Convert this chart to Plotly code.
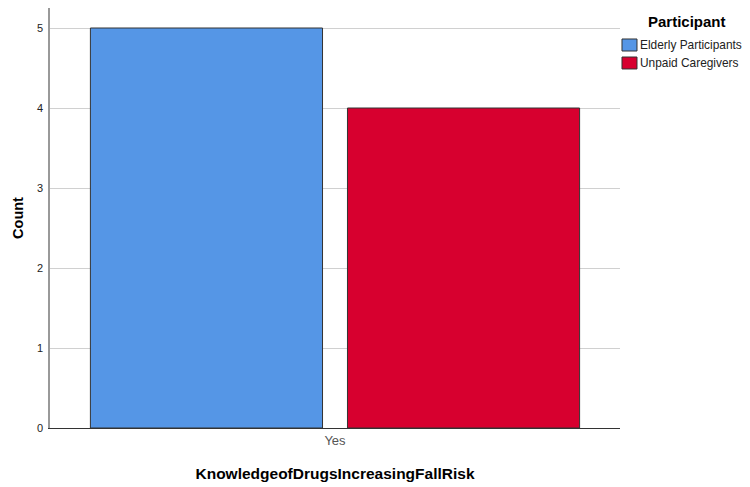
import plotly.graph_objects as go

categories = ["Yes"]
series_names = ["Elderly Participants", "Unpaid Caregivers"]
elderly_counts = [5]
caregiver_counts = [4]
colors = ["#5596E6", "#D7002F"]
legend_title = "Participant"
x_title = "KnowledgeofDrugsIncreasingFallRisk"
y_title = "Count"

FONT = "Liberation Sans, Arial, sans-serif"

fig = go.Figure()
for name, vals, col in zip(series_names, [elderly_counts, caregiver_counts], colors):
    fig.add_trace(go.Bar(
        x=categories, y=vals, name=name, showlegend=False,
        marker=dict(color=col, line=dict(color="#333333", width=1)),
    ))

# Legend drawn as annotations + swatches (SPSS-style compact legend)
fig.add_annotation(
    xref="paper", yref="paper", x=1.1175, y=0.9667, xanchor="center", yanchor="middle",
    text="<b>" + legend_title + "</b>", showarrow=False,
    font=dict(family=FONT, size=15, color="#000000"),
)
sw_y = [(0.8976, 0.9262), (0.8548, 0.8833)]
tx_y = [0.9119, 0.8690]
for name, col, (y0, y1), ty in zip(series_names, colors, sw_y, tx_y):
    fig.add_shape(
        type="rect", xref="paper", yref="paper",
        x0=1.0035, x1=1.0298, y0=y0, y1=y1,
        fillcolor=col, line=dict(color="#333333", width=1),
    )
    fig.add_annotation(
        xref="paper", yref="paper", x=1.0316, y=ty, xanchor="left", yanchor="middle",
        text=name, showarrow=False,
        font=dict(family=FONT, size=11.9, color="#222222"),
    )

fig.update_layout(
    width=742, height=479,
    margin=dict(l=42, r=130, t=0, b=59, autoexpand=False),
    paper_bgcolor="white", plot_bgcolor="white",
    barmode="group", bargap=0.098, bargroupgap=0.097,
    font=dict(family=FONT, color="#222222"),
    showlegend=False,
    xaxis=dict(
        title=dict(text="<b>" + x_title + "</b>", font=dict(size=15.5, color="#000000"), standoff=21),
        showline=True, linecolor="#333333", linewidth=1,
        tickfont=dict(size=13, color="#555555"),
        ticks="", showgrid=False, automargin=False,
    ),
    yaxis=dict(
        title=dict(text="<b>" + y_title + "</b>", font=dict(size=14.5, color="#000000"), standoff=10),
        range=[0, 5.25], dtick=1,
        showline=True, linecolor="#999999", linewidth=1.5,
        showgrid=True, gridcolor="#D0D0D0", gridwidth=1,
        zeroline=False, automargin=False,
        tickfont=dict(size=11, color="#222222"),
        ticks="outside", ticklen=3, tickcolor="rgba(0,0,0,0)",
    ),
)

fig.write_html("out.html")
